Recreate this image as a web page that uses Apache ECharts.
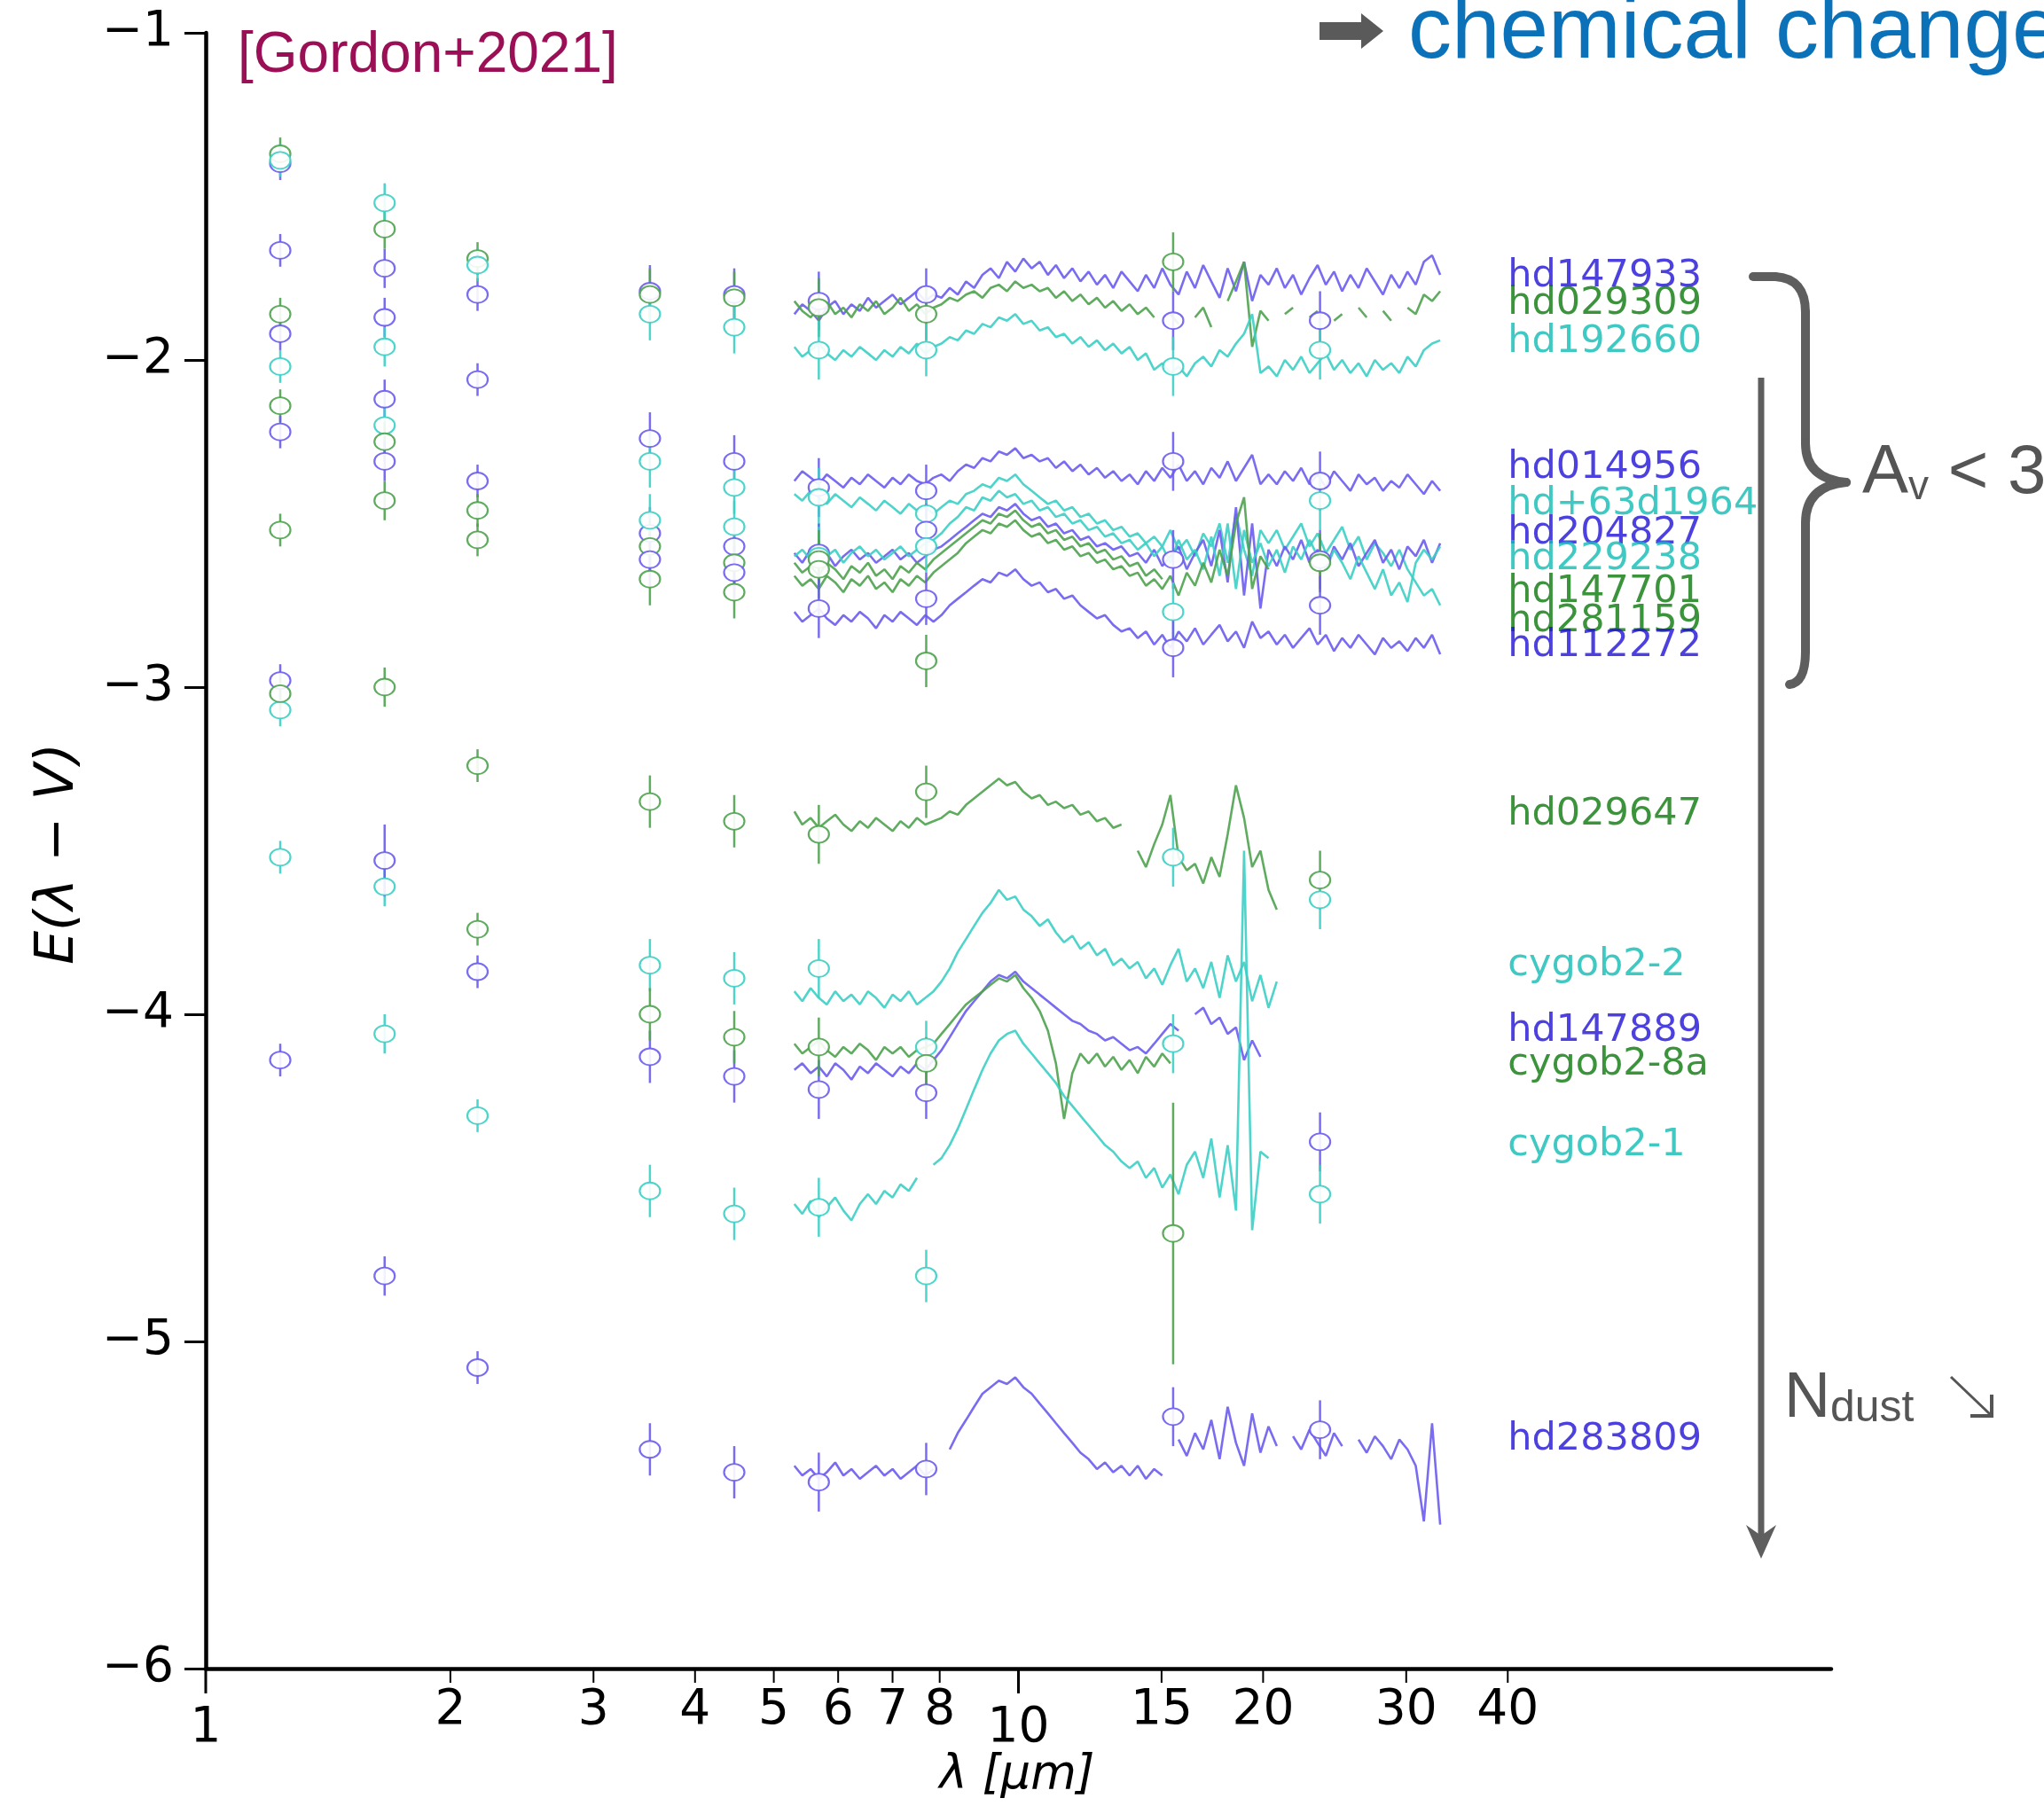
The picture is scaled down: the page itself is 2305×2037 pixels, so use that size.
<!DOCTYPE html>
<html><head><meta charset="utf-8">
<script src="https://cdn.jsdelivr.net/npm/echarts@6/dist/echarts.min.js"></script>
<style>html,body{margin:0;padding:0;background:#fff}#c{width:2305px;height:2037px}</style>
</head><body><div id="c"></div>
<script>
// ---------- DATA ----------
const specWave = [5.30,5.42,5.55,5.68,5.81,5.95,6.09,6.23,6.38,6.53,6.68,6.84,7.00,7.16,7.33,7.50,7.68,7.86,8.04,8.23,8.42,8.62,8.82,9.03,9.24,9.46,9.68,9.91,10.14,10.38,10.62,10.87,11.12,11.38,11.65,11.92,12.20,12.49,12.78,13.08,13.39,13.70,14.02,14.35,14.69,15.03,15.38,15.74,16.11,16.49,16.88,17.27,17.68,18.09,18.52,18.95,19.39,19.85,20.31,20.79,21.27,21.77,22.28,22.81,23.34,23.89,24.45,25.02,25.61,26.21,26.82,27.45,28.09,28.75,29.42,30.11,30.82,31.54,32.28,33.03];
const photWave = [1.235,1.66,2.16,3.52,4.47,5.68,7.7,15.5,23.5];
const photErr = [0.05,0.06,0.05,0.08,0.08,0.09,0.08,0.09,0.09];
const xTickValues = [1,2,3,4,5,6,7,8,10,15,20,30,40];
const xTickMajor  = [1,0,0,0,0,0,0,0,1,0,0,0,0];
const yTickValues = [-6,-5,-4,-3,-2,-1];

const starNames = ['hd147933','hd029309','hd192660','hd014956','hd+63d1964','hd204827','hd229238','hd147701','hd281159','hd112272','hd029647','cygob2-2','hd147889','cygob2-8a','cygob2-1','hd283809'];
const starColorKey = ['B','G','C','B','C','B','C','G','G','B','G','C','B','G','C','B'];
const labelY = [-1.745,-1.83,-1.944,-2.33,-2.44,-2.53,-2.61,-2.71,-2.80,-2.876,-3.39,-3.85,-4.05,-4.155,-4.40,-5.30];

const N = null;
const spec_hd147933 = [-1.86,-1.83,-1.85,-1.88,-1.84,-1.82,-1.86,-1.83,-1.85,-1.81,-1.84,-1.82,-1.80,-1.83,-1.81,-1.79,-1.82,-1.80,
 -1.81,-1.78,-1.80,-1.76,-1.78,-1.74,-1.72,-1.75,-1.70,-1.73,
 -1.69,-1.72,-1.70,-1.74,-1.71,-1.75,-1.72,-1.76,-1.73,-1.77,-1.74,-1.78,-1.73,-1.76,
 -1.79,-1.74,-1.78,-1.72,-1.77,-1.80,-1.73,-1.78,-1.71,-1.76,-1.81,-1.72,-1.79,-1.70,-1.82,-1.74,
 -1.77,-1.72,-1.78,-1.74,-1.80,-1.75,-1.71,-1.77,-1.73,-1.79,-1.74,-1.78,-1.72,-1.76,-1.80,-1.74,-1.78,-1.73,-1.77,-1.70,-1.68,-1.74];
const spec_hd029309 = [-1.82,-1.85,-1.87,-1.84,-1.82,-1.86,-1.84,-1.87,-1.83,-1.85,-1.82,-1.86,-1.84,-1.81,-1.85,-1.83,-1.86,-1.84,
 -1.83,-1.81,-1.82,-1.80,-1.79,-1.81,-1.78,-1.77,-1.79,-1.76,
 -1.78,-1.77,-1.79,-1.78,-1.81,-1.79,-1.82,-1.80,-1.83,-1.81,-1.84,-1.82,-1.85,-1.83,
 -1.86,-1.84,-1.87,N,-1.86,-1.89,N,-1.87,-1.84,-1.90,N,-1.82,-1.76,-1.70,-1.96,-1.85,
 -1.88,N,-1.86,-1.84,N,-1.87,-1.85,N,-1.88,-1.86,N,-1.84,-1.87,N,-1.85,-1.88,N,-1.84,-1.86,-1.80,-1.82,-1.79];
const spec_hd192660 = [-1.96,-1.99,-1.97,-1.95,-1.98,-2.00,-1.97,-1.99,-1.96,-1.98,-2.00,-1.97,-1.99,-1.96,-1.98,-1.95,-1.98,-1.96,
 -1.95,-1.93,-1.94,-1.91,-1.92,-1.89,-1.90,-1.87,-1.88,-1.86,
 -1.89,-1.88,-1.91,-1.90,-1.93,-1.92,-1.95,-1.93,-1.96,-1.94,-1.97,-1.95,-1.98,-1.96,
 -2.00,-1.98,-2.03,-2.01,-2.04,-2.02,-2.05,-2.01,-1.99,-2.02,-1.97,-1.99,-1.95,-1.92,-1.86,-2.04,
 -2.02,-2.05,-2.00,-2.03,-1.99,-2.04,-2.01,-1.98,-2.03,-2.00,-2.04,-2.01,-2.05,-2.00,-2.03,-2.01,-2.04,-1.99,-2.02,-1.97,-1.95,-1.94];
const spec_hd014956 = [-2.37,-2.34,-2.36,-2.38,-2.35,-2.37,-2.39,-2.36,-2.38,-2.35,-2.37,-2.39,-2.36,-2.38,-2.35,-2.37,-2.38,-2.36,
 -2.35,-2.37,-2.34,-2.32,-2.33,-2.30,-2.31,-2.28,-2.29,-2.27,
 -2.30,-2.29,-2.31,-2.30,-2.33,-2.31,-2.34,-2.32,-2.35,-2.33,-2.36,-2.34,-2.37,-2.35,
 -2.38,-2.34,-2.37,-2.33,-2.36,-2.32,-2.37,-2.34,-2.38,-2.33,-2.36,-2.31,-2.37,-2.33,-2.29,-2.38,
 -2.35,-2.38,-2.34,-2.37,-2.33,-2.38,-2.35,-2.39,-2.34,-2.37,-2.40,-2.35,-2.38,-2.36,-2.40,-2.37,-2.39,-2.35,-2.38,-2.41,-2.37,-2.40];
const spec_hd63d1964 = [-2.41,-2.43,-2.40,-2.42,-2.44,-2.41,-2.43,-2.45,-2.42,-2.44,-2.46,-2.43,-2.45,-2.47,-2.44,-2.46,-2.45,-2.47,
 -2.45,-2.43,-2.44,-2.41,-2.40,-2.38,-2.39,-2.36,-2.37,-2.35,
 -2.38,-2.40,-2.42,-2.44,-2.43,-2.46,-2.45,-2.48,-2.47,-2.50,-2.49,-2.52,-2.51,-2.54,
 -2.53,-2.56,-2.54,-2.57,-2.52,-2.58,-2.55,-2.60,-2.53,-2.57,-2.50,-2.62,-2.47,-2.58,-2.66,-2.52,
 -2.56,-2.52,-2.58,-2.54,-2.50,-2.57,-2.53,-2.59,-2.55,-2.51,-2.58,-2.54,-2.61,-2.56,-2.59,-2.63,-2.58,-2.64,-2.68,-2.72,-2.70,-2.75];
const spec_hd204827 = [-2.59,-2.62,-2.58,-2.61,-2.59,-2.63,-2.60,-2.58,-2.61,-2.59,-2.62,-2.60,-2.58,-2.61,-2.59,-2.62,-2.60,-2.58,
 -2.57,-2.55,-2.53,-2.51,-2.49,-2.47,-2.48,-2.45,-2.46,-2.44,
 -2.47,-2.49,-2.48,-2.51,-2.50,-2.53,-2.52,-2.55,-2.54,-2.57,-2.56,-2.58,-2.57,-2.60,
 -2.59,-2.62,-2.58,-2.63,-2.60,-2.57,-2.64,-2.59,-2.55,-2.63,-2.52,-2.68,-2.45,-2.72,-2.50,-2.76,
 -2.58,-2.63,-2.57,-2.61,-2.55,-2.62,-2.58,-2.64,-2.57,-2.61,-2.56,-2.63,-2.59,-2.55,-2.62,-2.58,-2.64,-2.57,-2.60,-2.55,-2.62,-2.56];
const spec_hd229238 = [-2.60,-2.58,-2.61,-2.57,-2.60,-2.58,-2.62,-2.59,-2.57,-2.60,-2.58,-2.61,-2.59,-2.57,-2.60,-2.58,-2.56,-2.55,
 -2.53,-2.50,-2.48,-2.45,-2.46,-2.42,-2.43,-2.40,-2.42,-2.41,
 -2.44,-2.43,-2.46,-2.45,-2.48,-2.47,-2.50,-2.49,-2.52,-2.51,-2.54,-2.53,-2.56,-2.55,
 -2.58,-2.56,-2.60,-2.57,-2.62,-2.55,-2.61,-2.58,-2.64,-2.54,-2.66,-2.50,-2.70,-2.52,-2.62,-2.56,
 -2.63,-2.58,-2.65,-2.57,-2.61,-2.55,-2.60,-2.64,-2.58,-2.62,-2.67,-2.60,-2.65,-2.70,-2.64,-2.72,-2.68,-2.74,-2.62,-2.58,-2.61,-2.57];
const spec_hd147701 = [-2.62,-2.65,-2.63,-2.66,-2.62,-2.64,-2.67,-2.63,-2.65,-2.62,-2.66,-2.64,-2.67,-2.63,-2.65,-2.62,-2.64,-2.61,
 -2.59,-2.57,-2.55,-2.53,-2.51,-2.49,-2.50,-2.47,-2.48,-2.46,
 -2.49,-2.51,-2.50,-2.53,-2.52,-2.55,-2.54,-2.57,-2.56,-2.59,-2.58,-2.61,-2.60,-2.63,
 -2.62,-2.66,-2.64,-2.67,N,N,N,N,N,N,N,N,N,N,N,N,
 N,N,N,N,N,N,N,N,N,N,N,N,N,N,N,N,N,N,N,N,N,N];
const spec_hd281159 = [-2.66,-2.69,-2.67,-2.70,-2.66,-2.68,-2.71,-2.67,-2.69,-2.66,-2.70,-2.68,-2.71,-2.67,-2.69,-2.66,-2.68,-2.65,
 -2.63,-2.61,-2.59,-2.56,-2.54,-2.52,-2.53,-2.50,-2.51,-2.49,
 -2.52,-2.54,-2.53,-2.56,-2.55,-2.58,-2.57,-2.60,-2.59,-2.62,-2.61,-2.64,-2.63,-2.66,
 -2.65,-2.69,-2.67,-2.70,-2.66,-2.72,-2.65,-2.69,-2.62,-2.68,-2.58,-2.66,-2.50,-2.42,-2.70,-2.60,
 -2.64,N,N,N,N,N,N,N,N,N,N,N,N,N,N,N,N,N,N,N,N,N];
const spec_hd112272 = [-2.77,-2.80,-2.78,-2.76,-2.79,-2.81,-2.78,-2.80,-2.77,-2.79,-2.82,-2.78,-2.80,-2.77,-2.79,-2.81,-2.78,-2.80,
 -2.78,-2.75,-2.73,-2.71,-2.69,-2.67,-2.68,-2.65,-2.66,-2.64,
 -2.67,-2.69,-2.68,-2.71,-2.70,-2.73,-2.72,-2.75,-2.77,-2.79,-2.78,-2.81,-2.83,-2.82,
 -2.85,-2.83,-2.87,-2.84,-2.88,-2.83,-2.86,-2.82,-2.87,-2.84,-2.81,-2.86,-2.83,-2.88,-2.80,-2.85,
 -2.83,-2.87,-2.84,-2.88,-2.85,-2.82,-2.87,-2.84,-2.89,-2.85,-2.88,-2.84,-2.87,-2.90,-2.85,-2.88,-2.86,-2.89,-2.85,-2.88,-2.84,-2.90];
const spec_hd029647 = [-3.38,-3.42,-3.40,-3.43,-3.41,-3.39,-3.42,-3.44,-3.41,-3.43,-3.40,-3.42,-3.44,-3.41,-3.43,-3.40,-3.42,-3.41,
 -3.40,-3.38,-3.39,-3.36,-3.34,-3.32,-3.30,-3.28,-3.30,-3.29,
 -3.32,-3.34,-3.33,-3.36,-3.35,-3.37,-3.36,-3.39,-3.38,-3.41,-3.40,-3.43,-3.42,N,
 -3.50,-3.55,-3.48,-3.42,-3.33,-3.52,-3.56,-3.54,-3.60,-3.52,-3.58,-3.45,-3.30,-3.40,-3.55,-3.50,
 -3.62,-3.68,N,N,N,N,N,N,N,N,N,N,N,N,N,N,N,N,N,N,N,N];
const spec_cygob22 = [-3.93,-3.96,-3.92,-3.95,-3.97,-3.93,-3.96,-3.94,-3.97,-3.93,-3.95,-3.98,-3.94,-3.96,-3.93,-3.97,-3.95,-3.93,
 -3.90,-3.86,-3.81,-3.77,-3.73,-3.69,-3.66,-3.62,-3.65,-3.64,
 -3.68,-3.70,-3.73,-3.71,-3.75,-3.78,-3.76,-3.80,-3.78,-3.82,-3.80,-3.85,-3.83,-3.86,
 -3.84,-3.89,-3.86,-3.91,-3.85,-3.80,-3.90,-3.86,-3.92,-3.84,-3.95,-3.82,-3.90,-3.84,-3.96,-3.88,
 -3.98,-3.90,N,N,N,N,N,N,N,N,N,N,N,N,N,N,N,N,N,N,N,N];
const spec_hd147889 = [-4.17,-4.15,-4.18,-4.16,-4.19,-4.15,-4.17,-4.20,-4.16,-4.18,-4.15,-4.17,-4.19,-4.16,-4.18,-4.15,-4.17,-4.14,
 -4.11,-4.07,-4.03,-3.99,-3.96,-3.93,-3.90,-3.88,-3.89,-3.87,
 -3.90,-3.92,-3.94,-3.96,-3.98,-4.00,-4.02,-4.03,-4.05,-4.06,-4.08,-4.07,-4.09,-4.11,
 -4.10,-4.12,-4.09,-4.06,-4.03,-4.05,N,-4.00,-3.98,-4.03,-4.01,-4.06,-4.04,-4.14,-4.08,-4.13,
 N,N,N,N,N,N,N,N,N,N,N,N,N,N,N,N,N,N,N,N,N,N];
const spec_cygob28a = [-4.09,-4.12,-4.10,-4.08,-4.11,-4.13,-4.10,-4.12,-4.09,-4.11,-4.14,-4.10,-4.12,-4.10,-4.13,-4.11,-4.10,-4.09,
 -4.06,-4.03,-4.00,-3.97,-3.95,-3.93,-3.91,-3.89,-3.90,-3.88,
 -3.92,-3.95,-3.99,-4.05,-4.15,-4.32,-4.18,-4.12,-4.15,-4.12,-4.16,-4.13,-4.17,-4.14,
 -4.18,-4.13,-4.16,-4.12,-4.15,N,N,N,N,N,N,N,N,N,N,N,
 N,N,N,N,N,N,N,N,N,N,N,N,N,N,N,N,N,N,N,N,N,N];
const spec_cygob21 = [-4.58,-4.61,-4.57,-4.62,-4.59,-4.56,-4.60,-4.63,-4.58,-4.55,-4.58,-4.54,-4.56,-4.52,-4.54,-4.50,N,-4.46,
 -4.44,-4.40,-4.35,-4.29,-4.23,-4.17,-4.12,-4.08,-4.06,-4.05,
 -4.09,-4.12,-4.15,-4.18,-4.21,-4.25,-4.28,-4.31,-4.34,-4.37,-4.40,-4.42,-4.45,-4.47,
 -4.45,-4.50,-4.47,-4.53,-4.49,-4.55,-4.46,-4.42,-4.50,-4.38,-4.56,-4.40,-4.60,-3.50,-4.66,-4.42,
 -4.44,N,N,N,N,N,N,N,N,N,N,N,N,N,N,N,N,N,N,N,N,N];
const spec_hd283809 = [-5.38,-5.41,-5.39,-5.42,-5.40,-5.37,-5.41,-5.39,-5.42,-5.40,-5.38,-5.41,-5.39,-5.42,-5.40,-5.38,-5.41,-5.39,
 N,-5.33,-5.28,-5.24,-5.20,-5.16,-5.14,-5.12,-5.13,-5.11,
 -5.14,-5.16,-5.19,-5.22,-5.25,-5.28,-5.31,-5.34,-5.36,-5.39,-5.37,-5.40,-5.38,-5.41,
 -5.38,-5.42,-5.39,-5.41,N,-5.30,-5.35,-5.28,-5.33,-5.24,-5.36,-5.20,-5.31,-5.38,-5.22,-5.34,
 -5.26,-5.32,N,-5.29,-5.33,-5.27,-5.31,-5.35,-5.28,-5.32,N,-5.30,-5.34,-5.29,-5.32,-5.36,-5.30,-5.33,-5.38,-5.55,-5.25,-5.56];

// photometry: J, H, K, 3.5, 4.5, 5.7, 7.7, 15.5, 23.5 micron
const phot_hd147933 = [-1.40,-1.72,-1.80,-1.79,-1.80,-1.82,-1.80,-1.88,-1.88];
const phot_hd029309 = [-1.37,-1.60,-1.69,-1.80,-1.81,-1.84,-1.86,-1.70,null];
const phot_hd192660 = [-1.39,-1.52,-1.71,-1.86,-1.90,-1.97,-1.97,-2.02,-1.97];
const phot_hd014956 = [-1.665,-1.87,-2.06,-2.24,-2.31,-2.39,-2.40,-2.31,-2.37];
const phot_hd63d1964 = [-2.02,-1.96,null,-2.31,-2.39,-2.42,-2.47,null,-2.43];
const phot_hd204827 = [-1.92,-2.12,-2.37,-2.53,-2.57,-2.59,-2.52,-2.61,-2.61];
const phot_hd229238 = [null,-2.20,null,-2.49,-2.51,-2.60,-2.57,-2.77,null];
const phot_hd147701 = [-1.86,-2.25,-2.46,-2.57,-2.62,-2.61,-2.92,null,-2.62];
const phot_hd281159 = [-2.14,-2.43,-2.55,-2.67,-2.71,-2.64,null,null,null];
const phot_hd112272 = [-2.22,-2.31,null,-2.61,-2.65,-2.76,-2.73,-2.88,-2.75];
const phot_hd029647 = [-2.52,-3.00,-3.24,-3.35,-3.41,-3.45,-3.32,null,-3.59];
const phot_cygob22 = [-3.07,-3.61,null,-3.85,-3.89,-3.86,-4.10,-3.52,-3.65];
const phot_hd147889 = [-2.98,-3.53,-3.87,-4.13,-4.19,-4.23,-4.24,null,-4.39];
const phot_cygob28a = [-3.02,null,-3.74,-4.00,-4.07,-4.10,-4.15,-4.67,null];
const phot_cygob21 = [-3.52,-4.06,-4.31,-4.54,-4.61,-4.59,-4.80,-4.09,-4.55];
const phot_hd283809 = [-4.14,-4.80,-5.08,-5.33,-5.40,-5.43,-5.39,-5.23,-5.27];
const bigErr = [{star:'cygob2-8a', band:7, err:0.40},{star:'hd147889', band:1, err:0.11}];

// ---------- BUILD ----------
const specs = [spec_hd147933,spec_hd029309,spec_hd192660,spec_hd014956,spec_hd63d1964,spec_hd204827,spec_hd229238,spec_hd147701,spec_hd281159,spec_hd112272,spec_hd029647,spec_cygob22,spec_hd147889,spec_cygob28a,spec_cygob21,spec_hd283809];
const phots = [phot_hd147933,phot_hd029309,phot_hd192660,phot_hd014956,phot_hd63d1964,phot_hd204827,phot_hd229238,phot_hd147701,phot_hd281159,phot_hd112272,phot_hd029647,phot_cygob22,phot_hd147889,phot_cygob28a,phot_cygob21,phot_hd283809];
const lineColor = {B:'#6a5cf0', G:'#4ea24e', C:'#3bcfc4'};
const textColor = {B:'#1f10d6', G:'#0a780a', C:'#10bcb4'};

const series = [];
starNames.forEach((name, i) => {
  const col = lineColor[starColorKey[i]];
  series.push({
    type:'line', name: name+' spec', z: 2,
    data: specWave.map((w,k)=> [w, (specs[i][k]===null || specs[i][k]===undefined) ? '-' : specs[i][k]]),
    showSymbol:false, symbol:'none', connectNulls:false,
    lineStyle:{color:col, width:2.6, opacity:0.9}, silent:true, animation:false
  });
  const pts = [];
  photWave.forEach((w,k)=>{
    const v = phots[i][k];
    if (v === null) return;
    let e = photErr[k];
    bigErr.forEach(b => { if (b.star===name && b.band===k) e = b.err; });
    pts.push([w, v, e]);
  });
  series.push({
    type:'custom', name: name+' err', z: 3, animation:false, silent:true,
    data: pts,
    renderItem: (params, api) => {
      const x = api.value(0), y = api.value(1), e = api.value(2);
      const p1 = api.coord([x, y + e]), p2 = api.coord([x, y - e]);
      return {type:'line', shape:{x1:p1[0], y1:p1[1], x2:p2[0], y2:p2[1]}, style:{stroke:col, lineWidth:2.5, opacity:0.9}};
    }
  });
  series.push({
    type:'scatter', name: name+' phot', z: 4, animation:false, silent:true,
    data: pts.map(p => [p[0], p[1]]),
    symbol:'emptyCircle', symbolSize:[23,19],
    itemStyle:{color:col, borderColor:col, borderWidth:2.5, opacity:0.9}
  });
});

// star labels
series.push({
  type:'scatter', name:'labels', z: 10, animation:false, silent:true,
  symbolSize: 0,
  data: starNames.map((n,i)=>({
    value:[40, labelY[i]], name:n,
    label:{show:true, position:'right', distance:0, formatter:n,
      color:textColor[starColorKey[i]], fontFamily:'DejaVu Sans', fontSize:43, align:'left', verticalAlign:'middle'}
  }))
});

// x ticks & labels (log axis, custom drawn)
series.push({
  type:'custom', name:'xticks', z: 10, animation:false, silent:true, clip:false,
  data: xTickValues.map((v,i)=>[v, -6, xTickMajor[i]]),
  renderItem: (params, api) => {
    const v = api.value(0), major = api.value(2);
    const p = api.coord([v, -6]);
    return {type:'group', children:[
      {type:'line', shape:{x1:p[0], y1:p[1], x2:p[0], y2:p[1] + (major ? 28 : 16)}, style:{stroke:'#000', lineWidth: major ? 3 : 2}},
      {type:'text', x:p[0], y:p[1] + (major ? 68 : 48), style:{text:String(v), font:'55px "DejaVu Sans"', fill:'#000', align:'center', verticalAlign:'middle'}}
    ]};
  }
});

const braceStyle = {stroke:'#5e5e5e', fill:null, lineWidth:10, lineCap:'round'};
const chart = echarts.init(document.getElementById('c'), null, {renderer:'canvas'});
chart.setOption({
  backgroundColor:'#ffffff',
  animation:false,
  grid:{left:232, right:240, top:37, bottom:155, containLabel:false},
  xAxis:{type:'log', logBase:10, min:1, max:100,
    axisLine:{show:true, onZero:false, lineStyle:{color:'#000', width:4.5}},
    axisTick:{show:false}, axisLabel:{show:false}, splitLine:{show:false}, minorTick:{show:false}},
  yAxis:{type:'value', min:-6, max:-1, interval:1,
    axisLine:{show:true, onZero:false, lineStyle:{color:'#000', width:4.5}},
    axisTick:{show:true, inside:false, length:24, lineStyle:{color:'#000', width:3}},
    axisLabel:{show:true, margin:36, fontSize:55, fontFamily:'DejaVu Sans', color:'#000',
      formatter:v => (v<0 ? '\u2212' : '') + Math.abs(v)},
    splitLine:{show:false}},
  series: series,
  graphic:[
    {type:'text', x:66, y:963, rotation:Math.PI/2, z:20,
      style:{text:'E(\u03bb \u2212 V)', font:'italic 60px "DejaVu Sans"', fill:'#000', align:'center', verticalAlign:'middle'}},
    {type:'text', x:1147, y:2003, z:20,
      style:{text:'\u03bb [\u03bcm]', font:'italic 53px "DejaVu Sans"', fill:'#000', align:'center', verticalAlign:'middle'}},
    {type:'text', x:268, y:63, z:20,
      style:{text:'[Gordon+2021]', font:'64px "Liberation Sans"', fill:'#9a0f55', align:'left', verticalAlign:'middle'}},
    {type:'polygon', z:20, shape:{points:[[1488,25],[1535,25],[1535,15],[1560,35],[1535,55],[1535,45],[1488,45]]}, style:{fill:'#5a5a5a'}},
    {type:'text', x:1588, y:38, z:20,
      style:{text:'chemical change', font:'98px "Liberation Sans"', fill:'#0b72b9', align:'left', verticalAlign:'middle'}},
    {type:'line', z:20, shape:{x1:1977, y1:312, x2:2002, y2:312}, style:braceStyle},
    {type:'bezierCurve', z:20, shape:{x1:2002, y1:312, cpx1:2036, cpy1:314, x2:2036, y2:352}, style:braceStyle},
    {type:'line', z:20, shape:{x1:2036, y1:352, x2:2036, y2:500}, style:braceStyle},
    {type:'bezierCurve', z:20, shape:{x1:2036, y1:500, cpx1:2036, cpy1:540, x2:2082, y2:544}, style:braceStyle},
    {type:'bezierCurve', z:20, shape:{x1:2082, y1:544, cpx1:2036, cpy1:548, x2:2036, y2:590}, style:braceStyle},
    {type:'line', z:20, shape:{x1:2036, y1:590, x2:2036, y2:735}, style:braceStyle},
    {type:'bezierCurve', z:20, shape:{x1:2036, y1:735, cpx1:2036, cpy1:770, x2:2018, y2:772}, style:braceStyle},
    {type:'text', x:2100, y:534, z:20,
      style:{rich:{a:{font:'78px "Liberation Sans"', fill:'#555'}, s:{font:'46px "Liberation Sans"', fill:'#555', padding:[32,0,0,0]}},
        text:'{a|A}{s|v}{a| < 3}', align:'left', verticalAlign:'middle'}},
    {type:'line', z:20, shape:{x1:1986, y1:426, x2:1986, y2:1735}, style:{stroke:'#5e5e5e', lineWidth:7}},
    {type:'polygon', z:20, shape:{points:[[1986,1758],[1969,1720],[1986,1732],[2003,1720]]}, style:{fill:'#5e5e5e'}},
    {type:'text', x:2012, y:1578, z:20,
      style:{rich:{a:{font:'72px "Liberation Sans"', fill:'#555'}, s:{font:'50px "Liberation Sans"', fill:'#555', padding:[22,0,0,0]}},
        text:'{a|N}{s|dust}', align:'left', verticalAlign:'middle'}},
    {type:'line', z:20, shape:{x1:2200, y1:1553, x2:2244, y2:1595}, style:{stroke:'#555', lineWidth:3}},
    {type:'polyline', z:20, shape:{points:[[2222,1597],[2246,1597],[2246,1573]]}, style:{stroke:'#555', lineWidth:4, fill:null}}
  ]
});
</script></body></html>
